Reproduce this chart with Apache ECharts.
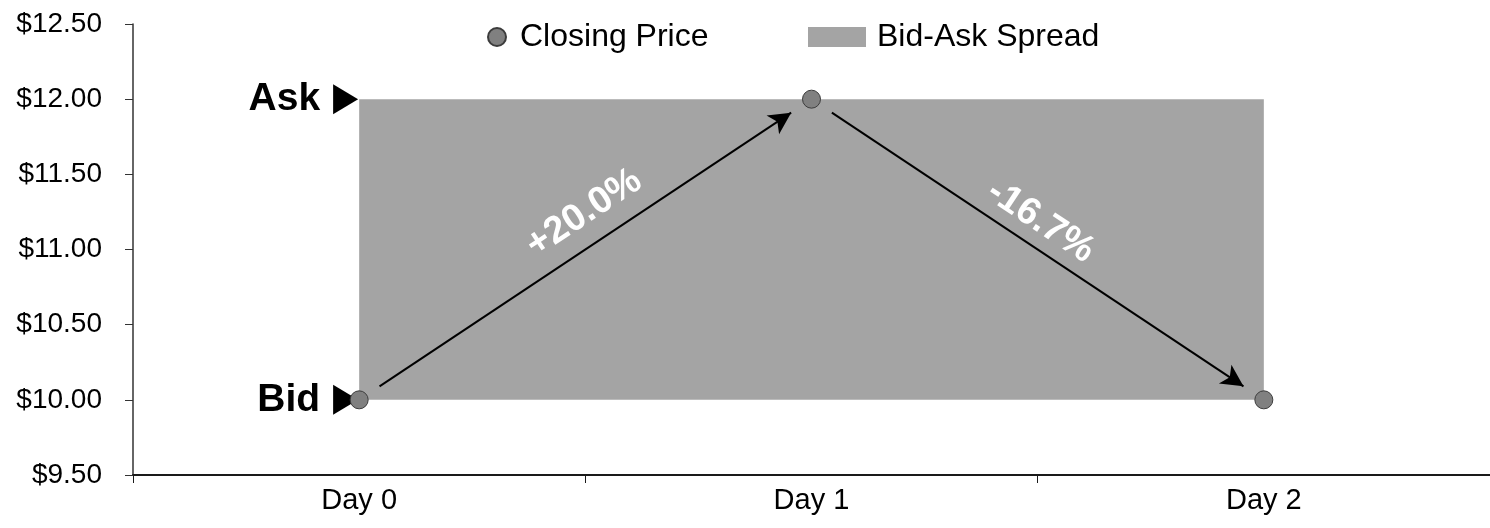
<!DOCTYPE html>
<html>
<head>
<meta charset="utf-8">
<title>Closing Price vs Bid-Ask Spread</title>
<script src="https://cdn.jsdelivr.net/npm/echarts@6/dist/echarts.min.js"></script>
<style>
  html, body { margin: 0; padding: 0; background: #ffffff; }
  #chart { width: 1490px; height: 528px; }
</style>
</head>
<body>
<div id="chart"></div>
<script>
// Categories and values
const days = ['Day 0', 'Day 1', 'Day 2'];
const closingPrice = [10.00, 12.00, 10.00];
const bidPrice = 10.00;
const askPrice = 12.00;
const spreadStartDay = 0;   // index into days
const spreadEndDay = 2;     // index into days
const priceAxis = { min: 9.5, max: 12.5, interval: 0.5 };
const quoteLabels = ['Ask', 'Bid'];
const quoteValues = [askPrice, bidPrice];

const FONT = '"Liberation Sans", Arial, sans-serif';
const fillGray = '#a4a4a4';

// Arrows between consecutive closes, trimmed a little at each end,
// labelled with the day-over-day percentage change.
const trim = 0.045;
// per-arrow label placement: padding slides the text along the arrow
const arrowLabelStyle = [
  { distance: 12, padding: [0, 0, 0, 38] },
  { distance: 6, padding: [0, 26, 0, 0] }
];
const arrowLines = [];
for (let i = 0; i < closingPrice.length - 1; i++) {
  const y0 = closingPrice[i], y1 = closingPrice[i + 1];
  const pct = (y1 - y0) / y0 * 100;
  const txt = (pct >= 0 ? '+' : '-') + Math.abs(pct).toFixed(1) + '%';
  arrowLines.push([
    {
      coord: [i + trim, y0 + (y1 - y0) * trim],
      label: Object.assign({ formatter: txt }, arrowLabelStyle[i] || {})
    },
    { coord: [i + 1 - trim, y1 - (y1 - y0) * trim] }
  ]);
}

const chart = echarts.init(document.getElementById('chart'), null, { renderer: 'canvas' });

chart.setOption({
  backgroundColor: '#ffffff',
  animation: false,
  textStyle: { fontFamily: FONT },
  grid: { left: 133, right: 0, top: 24, bottom: 53 },
  legend: [
    {
      data: [{ name: 'Closing Price', icon: 'circle' }],
      left: 482, top: 14,
      itemWidth: 18, itemHeight: 18,
      itemStyle: { opacity: 1 },
      textStyle: { fontSize: 32, color: '#000', fontFamily: FONT, lineHeight: 36, padding: [0, 0, 0, 9] },
      selectedMode: false
    },
    {
      data: [{ name: 'Bid-Ask Spread', icon: 'rect' }],
      left: 803, top: 14,
      itemWidth: 58, itemHeight: 20,
      textStyle: { fontSize: 32, color: '#000', fontFamily: FONT, lineHeight: 36, padding: [0, 0, 0, 6] },
      selectedMode: false
    }
  ],
  xAxis: [
    {
      type: 'category',
      data: days,
      boundaryGap: true,
      axisLine: { onZero: false, lineStyle: { color: '#1a1a1a', width: 2 } },
      axisTick: { show: true, length: 8, lineStyle: { color: '#1a1a1a', width: 1 } },
      axisLabel: { fontSize: 29, color: '#000', margin: 11, fontFamily: FONT },
      splitLine: { show: false }
    },
    {
      // numeric twin of the category axis: 0 = Day 0, 1 = Day 1, ...
      type: 'value',
      min: -0.5, max: days.length - 0.5,
      show: false
    }
  ],
  yAxis: {
    type: 'value',
    min: priceAxis.min, max: priceAxis.max, interval: priceAxis.interval,
    axisLine: { show: true, onZero: false, lineStyle: { color: '#333', width: 1.5 } },
    axisTick: { show: true, length: 8, lineStyle: { color: '#333', width: 1 } },
    axisLabel: {
      fontSize: 28, color: '#000', margin: 31, fontFamily: FONT,
      formatter: v => '$' + v.toFixed(2)
    },
    splitLine: { show: false }
  },
  series: [
    {
      name: 'Bid-Ask Spread',
      type: 'custom',
      xAxisIndex: 1,
      z: 1,
      itemStyle: { color: fillGray },
      data: [[spreadStartDay, spreadEndDay, bidPrice, askPrice]],
      encode: { x: [0, 1], y: [2, 3] },
      renderItem: function (params, api) {
        const p0 = api.coord([api.value(0), api.value(3)]);
        const p1 = api.coord([api.value(1), api.value(2)]);
        return {
          type: 'rect',
          shape: { x: p0[0], y: p0[1], width: p1[0] - p0[0], height: p1[1] - p0[1] },
          style: { fill: fillGray }
        };
      },
      silent: true
    },
    {
      name: 'quote markers',
      type: 'scatter',
      xAxisIndex: 1,
      z: 4,
      symbol: 'path://M0,0L10,5L0,10Z',
      symbolSize: [25, 30],
      symbolKeepAspect: false,
      itemStyle: { color: '#000', opacity: 1 },
      data: quoteLabels.map((name, i) => ({ name: name, value: [-0.03, quoteValues[i]] })),
      label: {
        show: true,
        position: 'left',
        distance: 13,
        formatter: p => p.name,
        fontSize: 39,
        fontWeight: 'bold',
        color: '#000',
        fontFamily: FONT
      },
      markLine: {
        silent: true,
        symbol: ['none', 'arrow'],
        symbolSize: [17, 22],
        lineStyle: { color: '#000', width: 2, type: 'solid', opacity: 1 },
        label: {
          show: true,
          position: 'middle',
          distance: 12,
          color: '#ffffff',
          fontSize: 38,
          fontWeight: 'bold',
          fontFamily: FONT
        },
        emphasis: { disabled: true },
        data: arrowLines
      },
      silent: true
    },
    {
      name: 'Closing Price',
      type: 'scatter',
      z: 5,
      symbol: 'circle',
      symbolSize: 18,
      itemStyle: { color: '#808080', borderColor: '#3c3c3c', borderWidth: 1, opacity: 1 },
      data: closingPrice
    }
  ]
});
</script>
</body>
</html>
